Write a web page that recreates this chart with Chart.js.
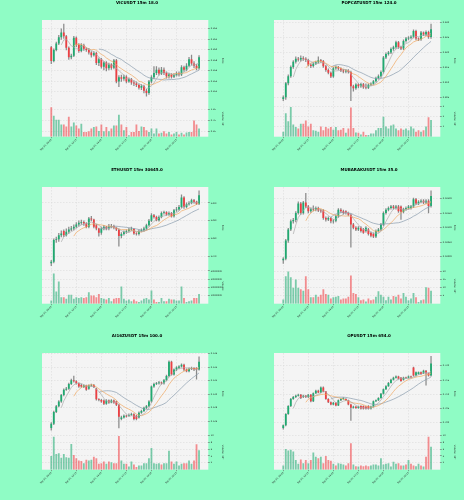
<!DOCTYPE html>
<html>
<head>
<meta charset="utf-8">
<script src="https://cdn.jsdelivr.net/npm/chart.js@4.4.1/dist/chart.umd.min.js"></script>
<style>
    html, body { margin: 0; padding: 0; background: #8ffcc5; }
    #wrap { position: relative; width: 464px; height: 500px; overflow: hidden; }
    #wrap canvas { position: absolute; }
</style>
</head>
<body>
<div id="wrap"></div>
<script>
// tick labels on the time axis (every 10th candle, 15m candles)
const timeTicks = ['Sep 07, 09:45', 'Sep 07, 12:15', 'Sep 07, 14:45', 'Sep 07, 17:15', 'Sep 07, 19:45', 'Sep 07, 22:15'];
const tickIndex = [0, 10, 20, 30, 40, 50];

// VICUSDT
const vicOpen = [0.2605,0.2579,0.2600,0.2612,0.2624,0.2633,0.2626,0.2604,0.2586,0.2589,
    0.2623,0.2610,0.2598,0.2609,0.2602,0.2600,0.2595,0.2590,0.2594,0.2575,
    0.2582,0.2568,0.2576,0.2565,0.2572,0.2566,0.2580,0.2540,0.2548,0.2545,
    0.2549,0.2540,0.2544,0.2538,0.2536,0.2533,0.2528,0.2531,0.2522,0.2518,
    0.2540,0.2548,0.2556,0.2562,0.2555,0.2562,0.2556,0.2550,0.2553,0.2549,
    0.2552,0.2555,0.2553,0.2567,0.2562,0.2570,0.2582,0.2574,0.2570,0.2565];
const vicClose = [0.2579,0.2600,0.2612,0.2624,0.2633,0.2626,0.2604,0.2586,0.2589,0.2623,
    0.2610,0.2598,0.2609,0.2602,0.2600,0.2595,0.2590,0.2594,0.2575,0.2582,
    0.2568,0.2576,0.2565,0.2572,0.2566,0.2580,0.2540,0.2548,0.2545,0.2549,
    0.2540,0.2544,0.2538,0.2536,0.2533,0.2528,0.2531,0.2522,0.2518,0.2540,
    0.2548,0.2556,0.2562,0.2555,0.2562,0.2556,0.2550,0.2553,0.2549,0.2552,
    0.2555,0.2553,0.2567,0.2562,0.2570,0.2582,0.2574,0.2570,0.2565,0.2586];
const vicHigh = [0.2607,0.2602,0.2615,0.2628,0.2640,0.2649,0.2628,0.2606,0.2592,0.2626,
    0.2625,0.2612,0.2612,0.2611,0.2604,0.2603,0.2597,0.2597,0.2596,0.2585,
    0.2584,0.2578,0.2578,0.2575,0.2574,0.2582,0.2582,0.2551,0.2552,0.2552,
    0.2551,0.2547,0.2546,0.2541,0.2539,0.2535,0.2534,0.2533,0.2525,0.2542,
    0.2551,0.2568,0.2568,0.2566,0.2567,0.2566,0.2558,0.2556,0.2555,0.2555,
    0.2558,0.2558,0.2570,0.2569,0.2574,0.2586,0.2590,0.2578,0.2573,0.2589];
const vicLow = [0.2574,0.2577,0.2598,0.2610,0.2620,0.2622,0.2600,0.2582,0.2583,0.2587,
    0.2606,0.2595,0.2596,0.2599,0.2597,0.2592,0.2586,0.2588,0.2572,0.2570,
    0.2565,0.2562,0.2560,0.2562,0.2563,0.2564,0.2537,0.2530,0.2540,0.2542,
    0.2537,0.2538,0.2534,0.2532,0.2530,0.2525,0.2524,0.2518,0.2512,0.2515,
    0.2537,0.2545,0.2553,0.2552,0.2553,0.2553,0.2546,0.2546,0.2546,0.2547,
    0.2550,0.2550,0.2551,0.2559,0.2560,0.2568,0.2571,0.2566,0.2562,0.2563];
const vicVolume = [1.35,0.96,0.78,0.78,0.56,0.56,0.47,0.91,0.47,0.65,
    0.51,0.37,0.59,0.22,0.22,0.25,0.37,0.44,0.47,0.26,
    0.56,0.25,0.44,0.25,0.37,0.51,0.51,1.00,0.56,0.29,
    0.44,0.07,0.22,0.22,0.56,0.26,0.47,0.44,0.29,0.22,
    0.38,0.15,0.37,0.15,0.18,0.25,0.15,0.22,0.10,0.15,
    0.22,0.10,0.18,0.10,0.19,0.22,0.22,0.74,0.56,0.37];
const vicPriceTicks = [0.252, 0.254, 0.256, 0.258, 0.260, 0.262, 0.264];
const vicVolumeTicks = [0.25, 0.50, 0.75, 1.00, 1.25, 1.50];

// POPCATUSDT
const popOpen = [0.8046,0.8052,0.8098,0.8122,0.8152,0.8170,0.8180,0.8177,0.8182,0.8180,
    0.8176,0.8160,0.8156,0.8163,0.8168,0.8175,0.8172,0.8155,0.8142,0.8133,
    0.8121,0.8148,0.8152,0.8147,0.8141,0.8137,0.8141,0.8136,0.8088,0.8082,
    0.8094,0.8088,0.8095,0.8085,0.8083,0.8093,0.8097,0.8105,0.8116,0.8122,
    0.8136,0.8184,0.8196,0.8201,0.8212,0.8218,0.8235,0.8218,0.8214,0.8239,
    0.8247,0.8250,0.8253,0.8272,0.8247,0.8245,0.8267,0.8261,0.8269,0.8252];
const popClose = [0.8052,0.8098,0.8122,0.8152,0.8170,0.8180,0.8177,0.8182,0.8180,0.8176,
    0.8160,0.8156,0.8163,0.8168,0.8175,0.8172,0.8155,0.8142,0.8133,0.8121,
    0.8148,0.8152,0.8147,0.8141,0.8137,0.8141,0.8136,0.8088,0.8082,0.8094,
    0.8088,0.8095,0.8085,0.8083,0.8093,0.8097,0.8105,0.8116,0.8122,0.8136,
    0.8184,0.8196,0.8201,0.8212,0.8218,0.8235,0.8218,0.8214,0.8239,0.8247,
    0.8250,0.8253,0.8272,0.8247,0.8245,0.8267,0.8261,0.8269,0.8252,0.8278];
const popHigh = [0.8056,0.8101,0.8126,0.8156,0.8174,0.8186,0.8185,0.8190,0.8187,0.8184,
    0.8179,0.8164,0.8167,0.8172,0.8186,0.8178,0.8175,0.8158,0.8146,0.8136,
    0.8151,0.8156,0.8155,0.8150,0.8145,0.8144,0.8144,0.8139,0.8092,0.8097,
    0.8097,0.8099,0.8098,0.8096,0.8096,0.8100,0.8108,0.8119,0.8126,0.8140,
    0.8188,0.8200,0.8205,0.8216,0.8222,0.8239,0.8238,0.8222,0.8243,0.8251,
    0.8254,0.8257,0.8276,0.8275,0.8250,0.8271,0.8270,0.8273,0.8272,0.8295];
const popLow = [0.8040,0.8044,0.8093,0.8118,0.8148,0.8165,0.8172,0.8172,0.8174,0.8170,
    0.8156,0.8150,0.8152,0.8160,0.8165,0.8168,0.8151,0.8138,0.8129,0.8117,
    0.8118,0.8144,0.8143,0.8137,0.8133,0.8133,0.8132,0.8040,0.8072,0.8078,
    0.8083,0.8084,0.8081,0.8079,0.8080,0.8089,0.8094,0.8102,0.8112,0.8118,
    0.8132,0.8180,0.8192,0.8197,0.8208,0.8214,0.8214,0.8210,0.8210,0.8235,
    0.8243,0.8246,0.8249,0.8243,0.8240,0.8241,0.8257,0.8257,0.8248,0.8248];
const popVolume = [0.48,2.33,1.53,2.94,1.21,0.96,0.80,1.28,1.28,1.60,
    1.02,1.28,0.64,0.58,0.48,1.02,0.64,0.96,0.80,0.96,
    0.70,0.96,0.64,0.70,0.86,0.38,0.80,2.88,0.86,0.42,
    0.38,0.22,0.48,0.16,0.16,0.32,0.32,0.64,0.86,0.86,
    1.98,1.02,0.80,1.12,1.21,0.80,0.64,0.80,0.70,0.80,
    0.64,1.02,0.80,0.48,0.64,0.48,0.64,1.02,1.92,1.66];
const popPriceTicks = [0.805, 0.810, 0.815, 0.820, 0.825, 0.830];
const popVolumeTicks = [1, 2, 3];

// ETHUSDT
const ethOpen = [2266.3,2267.2,2279.3,2279.8,2282.0,2284.3,2282.0,2283.9,2285.2,2285.7,
    2286.7,2288.0,2288.9,2289.4,2288.5,2286.7,2291.3,2290.7,2287.6,2285.7,
    2283.3,2285.7,2286.7,2285.7,2286.7,2287.2,2286.1,2285.2,2281.5,2282.6,
    2283.9,2284.4,2285.2,2285.4,2283.0,2282.6,2284.4,2284.8,2285.7,2287.6,
    2290.0,2293.1,2292.2,2290.4,2292.2,2294.4,2294.8,2293.5,2294.4,2292.6,
    2295.9,2296.3,2297.8,2303.0,2297.8,2299.3,2300.0,2301.5,2300.6,2299.6];
const ethClose = [2267.2,2279.3,2279.8,2282.0,2283.0,2282.0,2283.9,2285.2,2285.7,2286.7,
    2288.0,2288.9,2289.4,2288.5,2286.7,2291.3,2290.7,2286.7,2285.7,2283.3,
    2285.7,2286.7,2285.7,2287.0,2287.2,2286.1,2285.2,2281.5,2282.6,2283.9,
    2284.4,2285.2,2285.4,2283.0,2282.6,2284.4,2284.8,2285.7,2287.6,2290.0,
    2293.1,2292.2,2290.4,2292.2,2294.4,2294.8,2293.5,2294.4,2292.6,2295.9,
    2296.3,2297.8,2303.0,2297.8,2299.3,2300.0,2301.5,2300.6,2299.6,2304.3];
const ethHigh = [2268.0,2280.0,2281.0,2283.0,2284.5,2285.0,2285.5,2286.5,2287.0,2287.8,
    2289.0,2290.0,2290.5,2290.0,2289.0,2292.0,2292.5,2291.0,2288.0,2286.0,
    2286.5,2287.5,2287.0,2288.0,2288.0,2287.6,2286.5,2285.6,2283.5,2284.5,
    2285.0,2286.0,2286.5,2285.8,2283.5,2285.0,2285.6,2286.5,2288.2,2290.8,
    2294.0,2293.6,2292.6,2292.8,2295.0,2295.5,2295.2,2295.0,2294.8,2296.5,
    2297.5,2298.6,2304.5,2303.5,2300.0,2300.8,2302.2,2302.0,2301.0,2306.7];
const ethLow = [2265.0,2266.5,2278.0,2278.5,2281.0,2281.2,2281.5,2283.0,2284.5,2285.0,
    2286.0,2287.0,2288.0,2287.5,2286.0,2286.0,2290.0,2286.0,2285.0,2281.5,
    2282.5,2285.0,2285.0,2285.0,2286.0,2285.5,2284.5,2275.9,2280.5,2282.0,
    2283.0,2283.8,2284.6,2282.5,2282.0,2282.0,2283.8,2284.2,2285.0,2287.0,
    2289.5,2291.5,2290.0,2289.8,2291.6,2293.8,2293.0,2293.0,2292.0,2292.0,
    2295.2,2295.8,2297.2,2297.0,2297.2,2298.8,2299.5,2300.0,2299.0,2299.0];
const ethVolume = [4e6,37e6,15e6,27e6,8e6,8e6,6e6,11e6,11e6,6e6,
    8e6,7e6,8e6,7e6,8e6,14e6,10e6,10e6,8e6,12e6,
    7e6,6e6,5e6,7e6,3e6,6e6,7e6,7e6,21e6,6e6,
    4e6,5e6,3e6,5e6,3e6,2e6,4e6,6e6,7e6,5e6,
    16e6,5e6,2e6,2e6,7e6,3e6,3e6,6e6,5e6,5e6,
    4e6,4e6,21e6,7e6,2e6,3e6,4e6,7e6,7e6,12e6];
const ethPriceTicks = [2270, 2280, 2290, 2300];
const ethVolumeTicks = [10000000, 20000000, 30000000, 40000000];

// MUBARAKUSDT
const mubOpen = [0.02989,0.02994,0.03056,0.03094,0.03122,0.03126,0.03150,0.03183,0.03150,0.03186,
    0.03172,0.03156,0.03163,0.03161,0.03167,0.03159,0.03159,0.03133,0.03128,0.03133,
    0.03122,0.03124,0.03139,0.03161,0.03156,0.03156,0.03150,0.03144,0.03111,0.03100,
    0.03094,0.03100,0.03094,0.03089,0.03094,0.03083,0.03078,0.03070,0.03089,0.03094,
    0.03111,0.03150,0.03161,0.03167,0.03172,0.03167,0.03172,0.03172,0.03154,0.03163,
    0.03167,0.03167,0.03172,0.03197,0.03183,0.03189,0.03192,0.03186,0.03192,0.03174];
const mubClose = [0.02994,0.03056,0.03094,0.03122,0.03126,0.03150,0.03183,0.03150,0.03186,0.03172,
    0.03156,0.03163,0.03161,0.03167,0.03159,0.03156,0.03133,0.03128,0.03133,0.03122,
    0.03124,0.03139,0.03161,0.03156,0.03150,0.03150,0.03144,0.03111,0.03100,0.03094,
    0.03100,0.03089,0.03083,0.03100,0.03078,0.03072,0.03070,0.03089,0.03094,0.03111,
    0.03150,0.03161,0.03167,0.03172,0.03167,0.03172,0.03156,0.03154,0.03163,0.03167,
    0.03172,0.03172,0.03197,0.03183,0.03189,0.03192,0.03186,0.03192,0.03174,0.03208];
const mubHigh = [0.02998,0.03060,0.03098,0.03127,0.03132,0.03155,0.03188,0.03187,0.03190,0.03217,
    0.03176,0.03168,0.03175,0.03171,0.03170,0.03163,0.03162,0.03137,0.03137,0.03136,
    0.03128,0.03143,0.03165,0.03165,0.03160,0.03158,0.03153,0.03147,0.03115,0.03104,
    0.03104,0.03104,0.03098,0.03104,0.03098,0.03086,0.03082,0.03093,0.03098,0.03115,
    0.03154,0.03165,0.03171,0.03176,0.03176,0.03176,0.03176,0.03175,0.03167,0.03171,
    0.03176,0.03176,0.03201,0.03200,0.03193,0.03196,0.03196,0.03196,0.03196,0.03226];
const mubLow = [0.02978,0.02990,0.03050,0.03090,0.03115,0.03120,0.03146,0.03145,0.03146,0.03168,
    0.03150,0.03152,0.03157,0.03157,0.03155,0.03152,0.03128,0.03122,0.03124,0.03116,
    0.03115,0.03120,0.03135,0.03152,0.03146,0.03146,0.03140,0.03033,0.03096,0.03090,
    0.03090,0.03085,0.03080,0.03085,0.03074,0.03068,0.03066,0.03066,0.03085,0.03090,
    0.03107,0.03146,0.03157,0.03163,0.03163,0.03163,0.03152,0.03128,0.03150,0.03159,
    0.03163,0.03163,0.03168,0.03179,0.03179,0.03185,0.03182,0.03182,0.03150,0.03170];
const mubVolume = [2.6,17.0,20.0,16.5,10.0,15.0,10.0,9.0,8.0,17.0,
    9.0,4.0,4.0,5.5,4.4,5.5,9.0,6.0,5.5,3.3,
    4.0,4.4,4.8,2.6,3.3,3.3,4.4,17.6,6.6,6.0,
    4.0,2.2,2.6,1.3,3.3,2.2,2.6,4.4,7.7,5.5,
    4.4,2.2,4.4,2.6,4.8,4.4,5.5,3.3,6.6,4.4,
    2.2,3.3,6.6,4.0,1.1,2.2,2.6,10.3,10.0,8.0];
const mubPriceTicks = [0.0300, 0.0305, 0.0310, 0.0315, 0.0320];
const mubVolumeTicks = [5, 10, 15, 20];

// AI16ZUSDT
const aiOpen = [0.12501,0.12562,0.12737,0.12822,0.12892,0.12987,0.13067,0.13081,0.13152,0.13208,
    0.13190,0.13161,0.13138,0.13105,0.13128,0.13081,0.13128,0.13138,0.13081,0.12925,
    0.12916,0.12907,0.12859,0.12907,0.12878,0.12907,0.12892,0.12845,0.12633,0.12657,
    0.12680,0.12680,0.12694,0.12704,0.12680,0.12657,0.12727,0.12751,0.12798,0.12822,
    0.12892,0.13114,0.13152,0.13161,0.13175,0.13161,0.13208,0.13270,0.13482,0.13293,
    0.13364,0.13388,0.13411,0.13435,0.13364,0.13341,0.13378,0.13388,0.13388,0.13364];
const aiClose = [0.12562,0.12737,0.12822,0.12892,0.12987,0.13067,0.13081,0.13152,0.13208,0.13190,
    0.13161,0.13114,0.13114,0.13128,0.13067,0.13128,0.13138,0.13105,0.12925,0.12916,
    0.12892,0.12859,0.12907,0.12878,0.12907,0.12878,0.12845,0.12666,0.12657,0.12680,
    0.12671,0.12694,0.12704,0.12633,0.12633,0.12727,0.12751,0.12798,0.12822,0.12892,
    0.13114,0.13152,0.13161,0.13175,0.13161,0.13208,0.13270,0.13482,0.13293,0.13364,
    0.13397,0.13411,0.13435,0.13364,0.13341,0.13378,0.13388,0.13364,0.13364,0.13482];
const aiHigh = [0.12580,0.12750,0.12835,0.12905,0.13000,0.13080,0.13100,0.13165,0.13225,0.13270,
    0.13200,0.13170,0.13150,0.13140,0.13135,0.13140,0.13150,0.13145,0.13090,0.12935,
    0.12925,0.12915,0.12920,0.12915,0.12920,0.12915,0.12900,0.12855,0.12675,0.12695,
    0.12690,0.12710,0.12720,0.12712,0.12690,0.12740,0.12765,0.12810,0.12835,0.12905,
    0.13125,0.13165,0.13175,0.13190,0.13185,0.13220,0.13285,0.13495,0.13490,0.13375,
    0.13410,0.13425,0.13450,0.13445,0.13375,0.13390,0.13400,0.13395,0.13395,0.13553];
const aiLow = [0.12468,0.12550,0.12725,0.12810,0.12880,0.12975,0.13055,0.13070,0.13140,0.13180,
    0.13150,0.13100,0.13100,0.13095,0.13055,0.13070,0.13115,0.13095,0.12910,0.12900,
    0.12880,0.12845,0.12850,0.12865,0.12870,0.12865,0.12830,0.12501,0.12620,0.12645,
    0.12660,0.12670,0.12685,0.12620,0.12620,0.12645,0.12715,0.12740,0.12785,0.12810,
    0.12880,0.13100,0.13140,0.13150,0.13150,0.13150,0.13195,0.13255,0.13280,0.13280,
    0.13350,0.13375,0.13400,0.13350,0.13330,0.13330,0.13365,0.13350,0.13223,0.13355];
const aiVolume = [4.0,9.6,4.6,4.8,3.5,4.6,3.6,3.5,7.5,4.3,
    3.3,2.7,2.5,1.9,2.9,2.7,2.9,3.8,3.3,1.7,
    1.9,2.4,1.7,2.4,2.2,1.9,1.9,9.8,2.7,1.7,
    1.7,0.9,2.4,1.5,0.8,1.2,1.2,1.9,1.9,3.3,
    6.3,1.9,1.7,1.9,1.5,1.9,1.9,5.5,2.4,1.7,
    2.4,1.2,1.7,1.9,1.9,2.7,1.7,2.7,7.4,5.7];
const aiPriceTicks = [0.126, 0.128, 0.130, 0.132, 0.134, 0.136];
const aiVolumeTicks = [2, 4, 6, 8, 10];

// OPUSDT
const opOpen = [0.69807,0.69898,0.70296,0.70580,0.70830,0.70898,0.70944,0.70978,0.70898,0.70944,
    0.70898,0.70978,0.70750,0.71034,0.71125,0.71057,0.71239,0.71091,0.70830,0.70716,
    0.70637,0.70694,0.70603,0.70784,0.70830,0.70830,0.70784,0.70637,0.70523,0.70557,
    0.70512,0.70580,0.70580,0.70557,0.70580,0.70489,0.70557,0.70750,0.70784,0.70864,
    0.71012,0.71171,0.71284,0.71398,0.71512,0.71580,0.71625,0.71580,0.71512,0.71580,
    0.71580,0.71625,0.71943,0.71659,0.71716,0.71773,0.71739,0.71830,0.71739,0.71659];
const opClose = [0.69898,0.70296,0.70580,0.70830,0.70898,0.70944,0.70978,0.70864,0.70944,0.70898,
    0.70978,0.70750,0.71034,0.71125,0.71057,0.71239,0.71091,0.70830,0.70716,0.70637,
    0.70694,0.70603,0.70784,0.70830,0.70864,0.70784,0.70637,0.70523,0.70557,0.70512,
    0.70557,0.70489,0.70489,0.70489,0.70489,0.70557,0.70750,0.70784,0.70864,0.71012,
    0.71171,0.71284,0.71398,0.71512,0.71580,0.71625,0.71546,0.71466,0.71580,0.71568,
    0.71625,0.71602,0.71659,0.71773,0.71773,0.71716,0.71830,0.71739,0.71659,0.72080];
const opHigh = [0.69920,0.70310,0.70600,0.70850,0.70920,0.70970,0.71000,0.70995,0.70965,0.70960,
    0.70995,0.70990,0.71050,0.71140,0.71140,0.71255,0.71255,0.71100,0.70845,0.70730,
    0.70710,0.70705,0.70800,0.70845,0.70880,0.70845,0.70795,0.70650,0.70575,0.70570,
    0.70575,0.70595,0.70590,0.70570,0.70595,0.70575,0.70765,0.70800,0.70880,0.71030,
    0.71190,0.71300,0.71415,0.71530,0.71600,0.71645,0.71640,0.71595,0.71600,0.71600,
    0.71645,0.71640,0.71960,0.71790,0.71790,0.71790,0.71850,0.71845,0.71755,0.72341];
const opLow = [0.69762,0.69880,0.70280,0.70560,0.70810,0.70880,0.70925,0.70845,0.70880,0.70880,
    0.70880,0.70730,0.70735,0.71020,0.71040,0.71040,0.71075,0.70810,0.70700,0.70620,
    0.70620,0.70585,0.70590,0.70770,0.70815,0.70770,0.70620,0.70069,0.70505,0.70495,
    0.70495,0.70470,0.70470,0.70470,0.70470,0.70470,0.70540,0.70735,0.70770,0.70850,
    0.71000,0.71155,0.71270,0.71385,0.71495,0.71565,0.71530,0.71450,0.71495,0.71550,
    0.71565,0.71585,0.71640,0.71640,0.71700,0.71700,0.71720,0.71318,0.71640,0.71640];
const opVolume = [1.2,6.0,5.6,5.8,5.3,2.8,1.7,3.0,1.9,2.8,
    1.9,2.8,5.0,3.8,3.3,3.8,1.9,4.0,2.8,2.6,
    1.7,1.2,1.9,1.7,1.5,1.2,1.9,7.7,1.5,1.0,
    0.9,1.2,1.0,1.2,1.0,1.2,1.5,1.5,1.2,3.3,
    1.5,1.7,1.9,0.9,2.3,1.7,1.9,1.2,1.2,1.5,
    2.8,1.7,1.2,1.0,1.7,1.2,0.9,3.8,9.6,6.7];
const opPriceTicks = [0.700, 0.705, 0.710, 0.715, 0.720];
const opVolumeTicks = [2, 4, 6, 8, 10];

const FONT = 'DejaVu Sans';
const upColor = '#1faa70';
const downColor = '#ee3f43';
const volUp = 'rgba(40, 175, 120, 0.6)';
const volDown = 'rgba(240, 70, 75, 0.6)';

const panels = [
    { title: 'VICUSDT 15m 18.0', o: vicOpen, h: vicHigh, l: vicLow, c: vicClose, v: vicVolume,
      pTicks: vicPriceTicks, pMin: 0.2502, pMax: 0.2657, pDec: 3, vTicks: vicVolumeTicks, vMax: 1.62, vDec: 2, vTitle: 'Volume  10\u2077' },
    { title: 'POPCATUSDT 15m 124.0', o: popOpen, h: popHigh, l: popLow, c: popClose, v: popVolume,
      pTicks: popPriceTicks, pMin: 0.8038, pMax: 0.8309, pDec: 3, vTicks: popVolumeTicks, vMax: 3.5, vDec: 0, vTitle: 'Volume  10\u2077' },
    { title: 'ETHUSDT 15m 30645.0', o: ethOpen, h: ethHigh, l: ethLow, c: ethClose, v: ethVolume,
      pTicks: ethPriceTicks, pMin: 2263.5, pMax: 2308.9, pDec: 0, vTicks: ethVolumeTicks, vMax: 43.2e6, vDec: 0, vTitle: 'Volume' },
    { title: 'MUBARAKUSDT 15m 35.0', o: mubOpen, h: mubHigh, l: mubLow, c: mubClose, v: mubVolume,
      pTicks: mubPriceTicks, pMin: 0.02961, pMax: 0.03239, pDec: 5, vTicks: mubVolumeTicks, vMax: 22, vDec: 0, vTitle: 'Volume  10\u2076' },
    { title: 'AI16ZUSDT 15m 100.0', o: aiOpen, h: aiHigh, l: aiLow, c: aiClose, v: aiVolume,
      pTicks: aiPriceTicks, pMin: 0.12406, pMax: 0.1361, pDec: 3, vTicks: aiVolumeTicks, vMax: 10.3, vDec: 0, vTitle: 'Volume  10\u2076' },
    { title: 'OPUSDT 15m 654.0', o: opOpen, h: opHigh, l: opLow, c: opClose, v: opVolume,
      pTicks: opPriceTicks, pMin: 0.6958, pMax: 0.72455, pDec: 3, vTicks: opVolumeTicks, vMax: 10.3, vDec: 0, vTitle: 'Volume  10\u2076' }
];

// simple moving average of the closes
function sma(arr, n) {
    return arr.map((_, i) => {
        if (i < n - 1) return null;
        let s = 0;
        for (let k = i - n + 1; k <= i; k++) s += arr[k];
        return s / n;
    });
}

// light plot background behind both panels
const plotBg = {
    id: 'plotBg',
    beforeDraw(chart) {
        const { ctx, chartArea: a } = chart;
        ctx.save();
        ctx.fillStyle = '#f4f4f4';
        ctx.fillRect(a.left, a.top, a.right - a.left, a.bottom - a.top);
        ctx.restore();
    }
};

const wrap = document.getElementById('wrap');
const rowTop = [0, 167, 333];

panels.forEach((p, k) => {
    const cv = document.createElement('canvas');
    cv.width = 232;
    cv.height = 167;
    cv.style.left = (k % 2) * 232 + 'px';
    cv.style.top = rowTop[Math.floor(k / 2)] + 'px';
    wrap.appendChild(cv);

    const up = p.c.map((c, i) => c >= p.o[i]);
    const bodies = p.c.map((c, i) => ({ x: i, y: [p.o[i], c] }));
    const wicks = p.c.map((c, i) => ({ x: i, y: [p.l[i], p.h[i]] }));
    const vols = p.v.map((v, i) => ({ x: i, y: v }));
    const maLine = (n, color) => ({
        type: 'line',
        data: sma(p.c, n).map((v, i) => ({ x: i, y: v })),
        borderColor: color,
        borderWidth: 0.7,
        pointRadius: 0,
        yAxisID: 'y',
        order: 0
    });

    const tickFont = { family: FONT, size: 2.2 };
    const gridCol = '#dadada';

    new Chart(cv, {
        type: 'bar',
        data: {
            datasets: [
                maLine(5, '#ababab'),
                maLine(10, '#f0a760'),
                maLine(20, '#8a9cad'),
                {
                    data: bodies,
                    backgroundColor: ctx => up[ctx.dataIndex] ? upColor : downColor,
                    yAxisID: 'y',
                    grouped: false,
                    categoryPercentage: 1,
                    barPercentage: 0.72,
                    minBarLength: 0.6,
                    order: 2
                },
                {
                    data: wicks,
                    backgroundColor: '#8a8a8a',
                    yAxisID: 'y',
                    grouped: false,
                    barThickness: 0.6,
                    order: 3
                },
                {
                    data: vols,
                    backgroundColor: ctx => up[ctx.dataIndex] ? volUp : volDown,
                    yAxisID: 'yv',
                    grouped: false,
                    categoryPercentage: 1,
                    barPercentage: 0.72,
                    order: 2
                }
            ]
        },
        options: {
            responsive: false,
            animation: false,
            devicePixelRatio: 1,
            layout: { padding: { left: 42, right: 0, top: 0, bottom: 0 } },
            plugins: {
                legend: { display: false },
                tooltip: { enabled: false },
                title: {
                    display: true,
                    text: p.title,
                    color: '#000',
                    font: { family: FONT, size: 4, weight: 'bold' },
                    padding: { top: 1, bottom: 14.2 }
                }
            },
            scales: {
                x: {
                    type: 'linear',
                    offset: false,
                    min: -3.7,
                    max: 62.7,
                    afterBuildTicks: s => { s.ticks = tickIndex.map(v => ({ value: v })); },
                    afterFit: s => { s.height = 30.3; },
                    ticks: {
                        callback: v => timeTicks[tickIndex.indexOf(v)],
                        minRotation: 45,
                        maxRotation: 45,
                        font: tickFont,
                        color: '#222',
                        padding: 0.5
                    },
                    grid: { offset: false, color: gridCol, tickLength: 1.5, tickColor: '#666', lineWidth: 0.6 },
                    border: { display: false, dash: [1.5, 1.5] }
                },
                y: {
                    position: 'right',
                    stack: 'panel',
                    stackWeight: 2.3,
                    min: p.pMin,
                    max: p.pMax,
                    afterBuildTicks: s => { s.ticks = p.pTicks.map(v => ({ value: v })); },
                    afterFit: s => { s.width = 23.7; },
                    ticks: { callback: v => v.toFixed(p.pDec), font: tickFont, color: '#222', padding: 1 },
                    grid: { color: gridCol, tickLength: 1.5, tickColor: '#666', lineWidth: 0.6 },
                    border: { display: false, dash: [1.5, 1.5] },
                    title: { display: true, text: 'Price', color: '#222', font: { family: FONT, size: 2.4 }, padding: { top: 8, bottom: 0 } }
                },
                yv: {
                    position: 'right',
                    stack: 'panel',
                    stackWeight: 1,
                    min: 0,
                    max: p.vMax,
                    afterBuildTicks: s => { s.ticks = p.vTicks.map(v => ({ value: v })); },
                    afterFit: s => { s.width = 23.7; },
                    ticks: { callback: v => v.toFixed(p.vDec), font: tickFont, color: '#222', padding: 1 },
                    grid: { color: gridCol, tickLength: 1.5, tickColor: '#666', lineWidth: 0.6 },
                    border: { display: false, dash: [1.5, 1.5] },
                    title: { display: true, text: p.vTitle, color: '#222', font: { family: FONT, size: 2.4 }, padding: { top: 8, bottom: 0 } }
                }
            }
        },
        plugins: [plotBg]
    });
});
</script>
</body>
</html>
